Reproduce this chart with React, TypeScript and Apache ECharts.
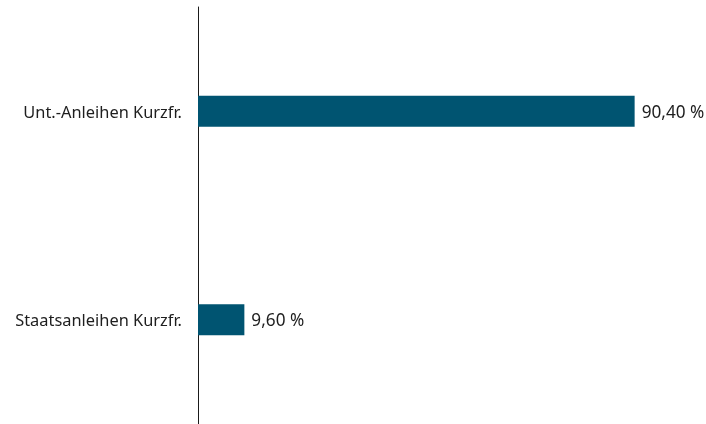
import React, { useEffect, useRef } from "react";
import * as echarts from "echarts";

const categories = ["Unt.-Anleihen Kurzfr.", "Staatsanleihen Kurzfr."];
const values = [90.4, 9.6];

export default function App() {
  const ref = useRef<HTMLDivElement>(null);
  useEffect(() => {
    if (!ref.current) return;
    const chart = echarts.init(ref.current, null, { renderer: "svg" });
    chart.setOption({
      animation: false,
      grid: { left: 198, right: 25, top: 7, bottom: 0, containLabel: false },
      xAxis: {
        type: "value",
        min: 0,
        max: 100,
        show: false,
      },
      yAxis: {
        type: "category",
        data: categories,
        inverse: true,
        axisLine: { show: true, lineStyle: { color: "#1a1a1a", width: 1 } },
        axisTick: { show: false },
        axisLabel: {
          margin: 16,
          color: "#1e1e1e",
          fontSize: 16.4,
          fontFamily: "Noto Sans",
        },
        splitLine: { show: false },
      },
      series: [
        {
          type: "bar",
          data: values,
          barWidth: 31,
          itemStyle: { color: "#005471" },
          label: {
            show: true,
            position: "right",
            distance: 7,
            color: "#1e1e1e",
            fontSize: 17.2,
            fontFamily: "Noto Sans",
            formatter: (p: any) => p.value.toFixed(2).replace(".", ",") + " %",
          },
        },
      ],
    });
    return () => chart.dispose();
  }, []);
  return (
    <div
      ref={ref}
      style={{ position: "fixed", left: 0, top: 0, width: 706, height: 424 }}
    />
  );
}
